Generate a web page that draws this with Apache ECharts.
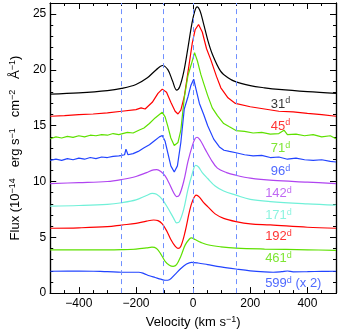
<!DOCTYPE html>
<html>
<head>
<meta charset="utf-8">
<script src="https://cdn.jsdelivr.net/npm/echarts@6/dist/echarts.min.js"></script>
<style>
  html, body { margin: 0; padding: 0; background: #fff; }
  #chart { width: 339px; height: 334px; }
</style>
</head>
<body>
<div id="chart"></div>
<script>
// velocity (km/s), flux (1e-14 erg/s/cm2/A)
const d31 = [[-500,17.84],[-400,17.95],[-300,18.15],[-250,18.35],[-200,18.7],[-160,19.3],[-130,20.0],[-107,20.4],[-88,20.0],[-72,19.0],[-58,18.2],[-47,18.5],[-33,19.8],[-18,22.0],[-4,24.2],[6,25.3],[14,25.65],[24,25.3],[36,24.2],[51,22.7],[66,21.5],[96,19.9],[122,19.3],[148,18.95],[200,18.6],[250,18.4],[300,18.25],[400,18.05],[500,17.9]];
const d45 = [[-500,15.85],[-450,15.9],[-400,16.0],[-350,16.05],[-300,16.15],[-250,16.3],[-200,16.45],[-182,16.6],[-168,16.5],[-143,17.1],[-123,17.9],[-108,18.28],[-93,18.0],[-78,17.1],[-63,16.3],[-53,16.05],[-43,16.4],[-31,17.6],[-18,19.8],[-3,22.4],[7,23.6],[19,24.07],[32,23.4],[47,21.9],[62,20.9],[82,19.4],[97,18.4],[122,17.5],[148,17.0],[200,16.7],[250,16.5],[300,16.3],[350,16.25],[400,16.1],[450,16.0],[500,15.85]];
const d71 = [[-500,13.83],[-480,14.0],[-460,13.9],[-440,14.05],[-420,13.95],[-400,14.1],[-380,14.0],[-360,14.15],[-340,14.1],[-320,14.2],[-300,14.15],[-280,14.3],[-260,14.2],[-250,14.27],[-230,14.4],[-210,14.35],[-190,14.6],[-172,14.8],[-153,15.2],[-133,15.7],[-118,16.0],[-108,16.2],[-98,15.8],[-88,14.9],[-78,13.9],[-66,13.23],[-53,13.5],[-43,14.6],[-31,17.5],[-18,19.5],[-3,20.8],[5,21.55],[15,20.8],[27,19.6],[37,18.8],[51,17.7],[67,16.6],[85,15.9],[107,15.2],[127,14.9],[150,14.57],[180,14.5],[210,14.35],[240,14.4],[270,14.25],[300,14.3],[318,14.6],[330,14.2],[360,14.25],[390,14.1],[420,14.2],[450,14.0],[480,14.1],[500,13.83]];
const d96 = [[-500,11.9],[-480,12.0],[-460,11.9],[-440,12.05],[-420,11.95],[-400,12.1],[-380,12.0],[-360,12.15],[-340,12.05],[-320,12.2],[-300,12.15],[-280,12.25],[-260,12.3],[-250,12.34],[-240,12.4],[-235,12.9],[-228,12.4],[-210,12.5],[-192,12.7],[-173,13.0],[-153,13.3],[-133,13.7],[-118,14.0],[-108,14.12],[-98,13.6],[-88,12.5],[-78,11.4],[-66,10.86],[-55,11.4],[-43,13.5],[-31,16.5],[-18,17.6],[-8,18.6],[2,19.17],[9,18.4],[22,17.0],[37,16.0],[51,15.0],[72,13.8],[92,13.1],[108,12.8],[127,12.7],[150,12.58],[180,12.4],[210,12.3],[240,12.35],[270,12.15],[300,12.2],[330,12.0],[360,12.1],[390,11.95],[420,11.9],[450,11.95],[480,11.8],[500,11.75]];
const d142 = [[-500,9.82],[-400,9.9],[-300,10.0],[-250,10.18],[-200,10.45],[-163,10.8],[-138,11.05],[-127,11.07],[-113,10.9],[-98,10.5],[-83,9.8],[-68,9.0],[-58,8.65],[-48,8.8],[-33,10.0],[-18,11.8],[-3,13.2],[7,13.85],[14,13.97],[25,13.7],[42,12.9],[62,12.0],[85,11.2],[117,10.8],[150,10.56],[200,10.3],[280,10.1],[400,9.95],[500,9.82]];
const d171 = [[-500,7.8],[-400,7.85],[-300,7.95],[-250,8.1],[-200,8.35],[-163,8.75],[-143,8.93],[-128,8.85],[-108,8.4],[-88,7.6],[-68,6.7],[-58,6.3],[-48,6.4],[-33,7.5],[-18,9.3],[-3,10.7],[9,11.45],[19,11.3],[32,10.8],[51,10.27],[77,9.6],[107,9.15],[150,8.78],[200,8.4],[270,8.2],[400,8.0],[500,7.89]];
const d192 = [[-500,5.81],[-400,5.85],[-300,5.95],[-250,6.1],[-200,6.25],[-163,6.45],[-138,6.55],[-123,6.5],[-108,6.2],[-93,5.6],[-78,4.8],[-63,4.2],[-53,4.0],[-43,4.2],[-28,5.5],[-13,7.3],[-3,8.2],[11,8.78],[22,8.6],[37,8.1],[51,7.75],[77,7.1],[107,6.7],[150,6.41],[200,6.2],[270,6.11],[400,5.9],[500,5.81]];
const d461 = [[-500,3.88],[-400,3.88],[-300,3.88],[-250,3.9],[-200,3.95],[-163,4.05],[-144,4.12],[-128,4.0],[-113,3.5],[-98,2.85],[-83,2.5],[-70,2.4],[-58,2.55],[-43,3.3],[-28,4.3],[-13,4.85],[-6,4.95],[7,4.8],[27,4.55],[51,4.33],[97,4.15],[150,4.03],[250,3.95],[400,3.88],[500,3.83]];
const d599 = [[-500,1.96],[-400,1.98],[-300,1.92],[-250,1.87],[-190,1.87],[-172,1.75],[-153,1.55],[-133,1.4],[-113,1.25],[-98,1.15],[-83,1.2],[-64,1.66],[-43,2.2],[-23,2.6],[-6,2.76],[17,2.7],[51,2.55],[97,2.35],[150,2.16],[200,2.0],[250,1.9],[280,1.87],[310,1.92],[330,1.98],[350,1.9],[400,1.92],[450,1.95],[500,1.96]];

const epochs = ['31', '45', '71', '96', '142', '171', '192', '461', '599'];
const colors = ['#000000', '#ff0000', '#5ee000', '#2244ff', '#b044f0', '#70f0d8', '#ff0000', '#5ee000', '#2244ff'];
const labelVel = [272, 272, 272, 272, 252, 252, 252, 252, 252];
const labelFlux = [16.95, 14.98, 12.93, 10.89, 8.92, 6.96, 5.10, 3.14, 0.83];
const dashVel = [-250, -105, 0, 150];
const xLabels = [-400, -200, 0, 200, 400];
const yLabels = [0, 5, 10, 15, 20, 25];

const spectra = [d31, d45, d71, d96, d142, d171, d192, d461, d599];
const noisy = [false, true, true, true, false, false, false, false, false];

const chart = echarts.init(document.getElementById('chart'));
const font = 'Liberation Sans';
const minus = v => String(v).replace('-', '\u2212');

function xAx(pos, major, withLabel) {
  return {
    type: 'value', min: -500, max: 500, interval: 50, position: pos,
    axisLine: { show: true, onZero: false, lineStyle: { color: '#000', width: 1.2 } },
    axisTick: major
      ? { show: true, inside: true, length: 6, customValues: xLabels, lineStyle: { color: '#000' } }
      : { show: true, inside: true, length: 3, lineStyle: { color: '#000' } },
    axisLabel: withLabel
      ? { show: true, customValues: xLabels, formatter: minus, fontFamily: font, fontSize: 12, color: '#000', margin: 5 }
      : { show: false },
    splitLine: { show: false }
  };
}
function yAx(pos, major, withLabel) {
  return {
    type: 'value', min: 0, max: 26, interval: 1, position: pos,
    axisLine: { show: true, onZero: false, lineStyle: { color: '#000', width: 1.2 } },
    axisTick: major
      ? { show: true, inside: true, length: 6, customValues: yLabels, lineStyle: { color: '#000' } }
      : { show: true, inside: true, length: 3, lineStyle: { color: '#000' } },
    axisLabel: withLabel
      ? { show: true, customValues: yLabels, fontFamily: font, fontSize: 12, color: '#000', margin: 4 }
      : { show: false },
    splitLine: { show: false }
  };
}

const titleStyle = {
  rich: {
    n: { fontFamily: font, fontSize: 13, color: '#000' },
    s: { fontFamily: font, fontSize: 9, color: '#000', verticalAlign: 'bottom', padding: [0, 0, 6, 0] }
  }
};

const xAxes = [xAx('bottom', false, true), xAx('bottom', true, false), xAx('top', false, false), xAx('top', true, false)];
xAxes[0].name = '{n|Velocity (km s}{s|\u22121}{n|)}';
xAxes[0].nameLocation = 'middle';
xAxes[0].nameGap = 19;
xAxes[0].nameTextStyle = titleStyle;

const yAxes = [yAx('left', false, true), yAx('left', true, false), yAx('right', false, false), yAx('right', true, false)];
yAxes[0].name = '{n|Flux (10}{s|\u221214}{n|   erg s}{s|\u22121}{n|   cm}{s|\u22122}{n|   \u00c5}{s|\u22121}{n|)}';
yAxes[0].nameLocation = 'middle';
yAxes[0].nameGap = 22;
yAxes[0].nameRotate = 90;
yAxes[0].nameTextStyle = titleStyle;

const series = spectra.map((d, i) => ({
  name: epochs[i],
  type: 'line',
  data: d,
  showSymbol: false,
  smooth: noisy[i] ? false : 0.35,
  lineStyle: { color: colors[i], width: 1.2 },
  itemStyle: { color: colors[i] },
  z: 3,
  silent: true
}));

// vertical dashed reference velocities
series.push({
  type: 'line', data: [], silent: true,
  markLine: {
    silent: true, symbol: 'none', label: { show: false },
    lineStyle: { color: '#7090ff', type: [5, 4], width: 1 },
    data: dashVel.map(v => ({ xAxis: v }))
  },
  z: 2
});

// epoch labels
series.push({
  type: 'scatter', symbolSize: 0, silent: true,
  data: epochs.map((e, i) => ({
    value: [labelVel[i], labelFlux[i]],
    label: {
      color: colors[i],
      formatter: '{n|' + e + '}{s|d}' + (e === '599' ? '{n| (x 2)}' : '')
    }
  })),
  label: {
    show: true, position: 'right', distance: 0,
    rich: {
      n: { fontFamily: font, fontSize: 13 },
      s: { fontFamily: font, fontSize: 9, verticalAlign: 'bottom', padding: [0, 0, 6, 0] }
    }
  },
  z: 5
});

chart.setOption({
  animation: false,
  grid: { left: 42, right: 3, top: 3, bottom: 39 },
  xAxis: xAxes,
  yAxis: yAxes,
  series: series
});
</script>
</body>
</html>
